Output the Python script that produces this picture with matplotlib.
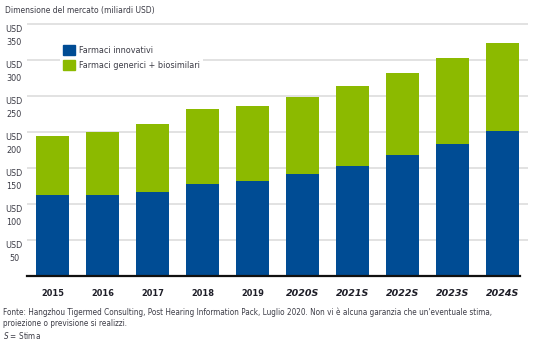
import matplotlib
matplotlib.use("Agg")
import matplotlib.pyplot as plt
from matplotlib.patches import Patch
import matplotlib.transforms as mtransforms

years = ["2015", "2016", "2017", "2018", "2019", "2020S", "2021S", "2022S", "2023S", "2024S"]
innovativi = [112.5, 112.5, 116.5, 128, 132, 142, 153, 168, 183, 201]
totale = [194.5, 200, 211, 232, 236, 248.5, 264, 282, 303, 323.5]
generici = [t - i for t, i in zip(totale, innovativi)]
ytick_vals = [50, 100, 150, 200, 250, 300, 350]

BLUE = "#004c94"
GREEN = "#8cba00"
GRID = "#dadada"
TXT = "#3c3c46"

plt.rcParams["font.family"] = ["DejaVu Sans"]
plt.rcParams["font.stretch"] = "condensed"

W, H = 535, 347
fig = plt.figure(figsize=(W / 100, H / 100), dpi=100)
ax = fig.add_axes([27 / W, 1 - 276 / H, (528 - 27) / W, (276 - 16.8) / H])
ax.set_xlim(-0.51, 9.5)
ax.set_ylim(0, 360)
for s in ax.spines.values():
    s.set_visible(False)

for v in ytick_vals:
    ax.axhline(v, color=GRID, lw=1.1, zorder=0)

x = list(range(len(years)))
ax.bar(x, innovativi, width=0.66, color=BLUE, zorder=2)
ax.bar(x, generici, bottom=innovativi, width=0.66, color=GREEN, zorder=2)
ax.plot([-0.51, 9.35], [0, 0], color="#111111", lw=1.6, zorder=3, clip_on=False)

ax.set_yticks([])
ax.set_xticks(x)
ax.set_xticklabels(years)
ax.tick_params(axis="x", length=0, pad=9)
for i, lab in enumerate(ax.get_xticklabels()):
    lab.set_fontweight("bold")
    lab.set_color("#1e1e28")
    if years[i].endswith("S"):
        lab.set_fontstyle("italic")
        lab.set_fontstretch("normal")
        lab.set_fontsize(6.8)
    else:
        lab.set_fontsize(6.6)

trans = mtransforms.blended_transform_factory(fig.transFigure, ax.transData)
for v in ytick_vals:
    ax.text(14 / W, v - 2, "USD\n%d" % v, transform=trans, ha="center", va="top",
            fontsize=6.5, color=TXT, linespacing=1.45, clip_on=False)

handles = [Patch(color=BLUE, label="Farmaci innovativi"),
           Patch(color=GREEN, label="Farmaci generici + biosimilari")]
leg = ax.legend(handles=handles, loc="upper left", bbox_to_anchor=(60 / W, 1 - 42 / H),
                bbox_transform=fig.transFigure, frameon=True, fontsize=6.5,
                handlelength=1.35, handleheight=1.35, handletextpad=0.5,
                labelspacing=0.55, borderpad=0.3, borderaxespad=0)
leg.get_frame().set_facecolor("white")
leg.get_frame().set_edgecolor("none")
leg.get_frame().set_alpha(1)
leg.set_zorder(5)
for t in leg.get_texts():
    t.set_color(TXT)

fig.text(5 / W, 1 - 10 / H, "Dimensione del mercato (miliardi USD)", ha="left", va="center",
         fontsize=6.1, color=TXT)
fig.text(3 / W, 1 - 312 / H,
         "Fonte: Hangzhou Tigermed Consulting, Post Hearing Information Pack, Luglio 2020. Non vi è alcuna garanzia che un'eventuale stima,",
         ha="left", va="center", fontsize=5.9, color=TXT)
fig.text(3 / W, 1 - 323.5 / H, "proiezione o previsione si realizzi.", ha="left", va="center",
         fontsize=5.9, color=TXT)
fig.text(3 / W, 1 - 335.5 / H, "$S$ = Stima", ha="left", va="center", fontsize=5.9, color=TXT)

fig.savefig("out.png", dpi=100)
